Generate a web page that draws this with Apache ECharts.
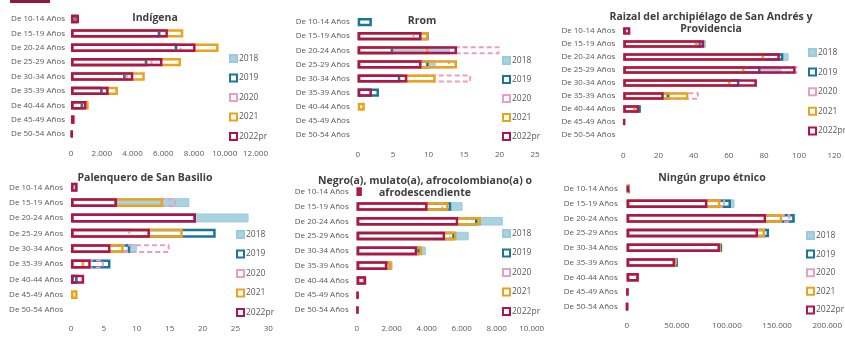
<!DOCTYPE html>
<html>
<head>
<meta charset="utf-8">
<script src="https://cdn.jsdelivr.net/npm/echarts@6/dist/echarts.min.js"></script>
<style>html,body{margin:0;padding:0;background:#fff;}#c{width:845px;height:341px;}</style>
</head>
<body>
<div id="c"></div>
<script>
const categories = ['De 10-14 Años','De 15-19 Años','De 20-24 Años','De 25-29 Años','De 30-34 Años','De 35-39 Años','De 40-44 Años','De 45-49 Años','De 50-54 Años'];
const years = ['2018','2019','2020','2021','2022pr'];

// values per panel, rows in order of years
const indigena = [
  [450, 5850, 6950, 5000, 3600, 2100, 800, 200, 100],
  [380, 5800, 6900, 4950, 3550, 2050, 780, 180, 90],
  [420, 6050, 7200, 5300, 3700, 2350, 850, 200, 100],
  [480, 7300, 9600, 7150, 4800, 3050, 1150, 250, 110],
  [520, 6300, 8100, 5950, 4050, 2450, 1000, 220, 100]
];
const rrom = [
  [0, 10, 13, 11, 6, 2, 0, 0, 0],
  [2, 10, 5, 10, 6, 3, 0, 0, 0],
  [0, 8, 20, 13, 16, 0, 0, 0, 0],
  [0, 10, 10, 14, 11, 0, 1, 0, 0],
  [0, 9, 14, 9, 7, 2, 0, 0, 0]
];
const raizal = [
  [1, 47, 94, 90, 66, 27, 8, 1, 0],
  [1, 44, 91, 78, 66, 26, 10, 0, 0],
  [0, 43, 81, 99, 62, 43, 7, 0, 0],
  [0, 42, 80, 69, 61, 37, 7, 0, 0],
  [4, 46, 89, 98, 76, 23, 9, 1, 0]
];
const palenquero = [
  [1, 18, 27, 10, 10, 2, 1, 0, 0],
  [0, 7, 19, 22, 9, 6, 1, 0, 0],
  [0, 16, 0, 9, 15, 5, 0, 0, 0],
  [0, 14, 0, 17, 8, 2, 0, 1, 0],
  [1, 7, 19, 12, 6, 3, 2, 0, 0]
];
const negro = [
  [300, 6050, 8350, 6400, 3950, 2050, 550, 100, 80],
  [250, 5400, 6900, 5600, 3600, 1900, 500, 90, 70],
  [250, 4950, 6650, 5400, 3500, 1850, 450, 90, 70],
  [280, 5250, 7100, 5700, 3750, 2000, 520, 100, 80],
  [290, 4050, 5800, 5050, 3450, 1750, 540, 100, 80]
];
const ningun = [
  [3500, 107500, 168000, 140000, 95500, 51000, 12500, 1500, 800],
  [3300, 104000, 167500, 142000, 95000, 51000, 12300, 1400, 800],
  [3000, 98000, 163000, 138000, 94000, 50000, 12000, 1400, 700],
  [2800, 93500, 155000, 138000, 94000, 49500, 12000, 1400, 700],
  [2300, 80500, 139000, 131000, 93000, 48200, 12000, 1300, 700]
];

const panelTitles = ['Indígena','Rrom','Raizal del archipiélago de San Andrés y\nProvidencia','Palenquero de San Basilio','Negro(a), mulato(a), afrocolombiano(a) o\nafrodescendiente','Ningún grupo étnico'];
const panelData = [indigena, rrom, raizal, palenquero, negro, ningun];
const axisMax = [12000, 25, 120, 30, 10000, 200000];
const axisInterval = [2000, 5, 20, 5, 2000, 50000];

// layout
const layout = [
  {left:71, width:184.5, top:11.8, height:129.4, lblMargin:9, yMargin:6, tx:150, ty:7, lx:229, ly:54, gap:10.5},
  {left:357.7, width:177.3, top:15, height:127, lblMargin:9, yMargin:8, tx:417, ty:10, lx:502, ly:56, gap:10},
  {left:623.3, width:211, top:24.5, height:117, lblMargin:10, yMargin:8, tx:706, ty:6, lx:808, ly:48, gap:10.6},
  {left:71, width:197.3, top:179.6, height:138, lblMargin:7, yMargin:8, tx:140, ty:167, lx:236, ly:230, gap:10.5},
  {left:356.7, width:175, top:184.3, height:133.1, lblMargin:7, yMargin:8, tx:420, ty:170, lx:502, ly:229, gap:10.5},
  {left:626.7, width:203.3, top:181.6, height:132.4, lblMargin:8, yMargin:9, tx:707, ty:167, lx:806, ly:231, gap:9.6}
];

const styles = [
  {color:'#a8d3e2', borderColor:'#9ccadb', borderWidth:1},
  {color:'#ffffff', borderColor:'#1b7599', borderWidth:2.5},
  {color:'rgba(0,0,0,0)', borderColor:'#e8a0c0', borderWidth:2, borderType:[5,3]},
  {color:'rgba(0,0,0,0)', borderColor:'#eba21d', borderWidth:2.5},
  {color:'rgba(0,0,0,0)', borderColor:'#b0144f', borderWidth:2.5}
];

function fmt(v){ return String(v).replace(/\B(?=(\d{3})+(?!\d))/g, '.'); }

const FONT = '"Open Sans", "Noto Sans", sans-serif';
const grid = [], xAxis = [], yAxis = [], series = [], title = [], legend = [];
layout.forEach((L, i) => {
  grid.push({left:L.left, width:L.width, top:L.top, height:L.height, containLabel:false});
  xAxis.push({type:'value', gridIndex:i, min:0, max:axisMax[i], interval:axisInterval[i],
    axisLine:{show:false}, axisTick:{show:false}, splitLine:{show:false},
    axisLabel:{color:'#595959', fontSize:8, fontFamily:FONT, margin:L.lblMargin, formatter:fmt}});
  yAxis.push({type:'category', gridIndex:i, data:categories, inverse:true,
    axisLine:{show:false}, axisTick:{show:false}, splitLine:{show:false},
    axisLabel:{color:'#595959', fontSize:8, fontFamily:FONT, margin:L.yMargin}});
  title.push({text:panelTitles[i], left:L.tx, top:L.ty, textAlign:'center',
    textStyle:{fontSize:10.5, fontWeight:'bold', color:'#404040', fontFamily:FONT, lineHeight:12}});
  legend.push({data:years, orient:'vertical', left:L.lx, top:L.ly, itemWidth:7, itemHeight:7, itemGap:L.gap,
    icon:'rect', padding:0, selectedMode:false,
    textStyle:{color:'#595959', fontSize:8.5, fontFamily:FONT, padding:[0,0,0,-3]}});
  years.forEach((y, k) => {
    series.push({name:y, type:'bar', xAxisIndex:i, yAxisIndex:i, barWidth:'58%', barGap:'-100%',
      itemStyle:Object.assign({}, styles[k]),
      data:panelData[i][k].map(v => v === 0 ? null : v), animation:false, silent:true});
  });
});

const chart = echarts.init(document.getElementById('c'), null, {renderer:'canvas'});
chart.setOption({
  backgroundColor:'#ffffff',
  animation:false,
  graphic:[{type:'rect', left:10, top:0, shape:{width:40, height:3}, style:{fill:'#8e1a43'}}],
  title, legend, grid, xAxis, yAxis, series
});
</script>
</body>
</html>
